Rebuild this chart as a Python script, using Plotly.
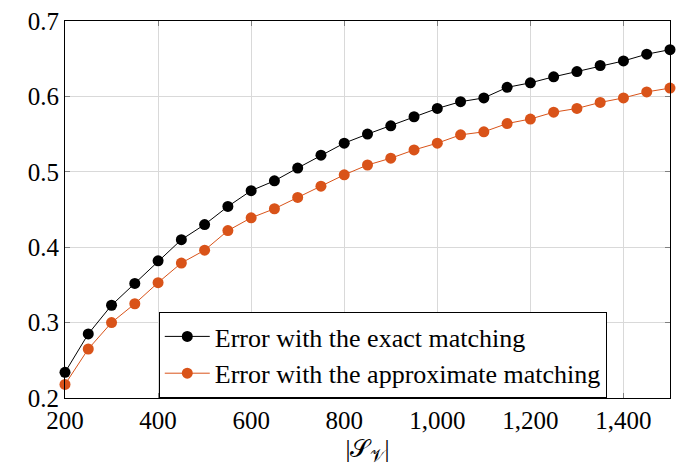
import plotly.graph_objects as go

x_vals = [200, 250, 300, 350, 400, 450, 500, 550, 600, 650, 700, 750, 800, 850,
          900, 950, 1000, 1050, 1100, 1150, 1200, 1250, 1300, 1350, 1400, 1450, 1500]
exact_err = [0.234, 0.285, 0.323, 0.352, 0.382, 0.410, 0.430, 0.454, 0.475, 0.488,
             0.505, 0.522, 0.538, 0.550, 0.561, 0.573, 0.584, 0.593, 0.598, 0.612,
             0.618, 0.626, 0.633, 0.641, 0.647, 0.656, 0.662]
approx_err = [0.218, 0.265, 0.300, 0.325, 0.353, 0.379, 0.396, 0.422, 0.439, 0.451,
              0.466, 0.481, 0.496, 0.509, 0.518, 0.529, 0.538, 0.549, 0.553, 0.564,
              0.570, 0.579, 0.584, 0.592, 0.598, 0.606, 0.611]
x_ticks = [200, 400, 600, 800, 1000, 1200, 1400]
y_ticks = [0.2, 0.3, 0.4, 0.5, 0.6, 0.7]

font_family = "Liberation Serif, serif"
tick_size = 25
legend_size = 26

fig = go.Figure()
fig.add_trace(go.Scatter(
    x=x_vals, y=exact_err, mode="lines+markers",
    name="Error with the exact matching",
    line=dict(color="black", width=1),
    marker=dict(color="black", size=11),
    cliponaxis=False,
))
fig.add_trace(go.Scatter(
    x=x_vals, y=approx_err, mode="lines+markers",
    name="Error with the approximate matching",
    line=dict(color="#D95319", width=1),
    marker=dict(color="#D95319", size=11),
    cliponaxis=False,
))

def axis_style():
    return dict(
        showgrid=True, gridcolor="#d9d9d9", gridwidth=1,
        showline=True, linecolor="black", linewidth=1, mirror="ticks",
        ticks="inside", ticklen=5, tickcolor="#808080",
        zeroline=False, automargin=False, ticklabeloverflow="allow",
        tickfont=dict(family=font_family, size=tick_size, color="black"),
    )

fig.update_layout(
    width=686, height=473,
    margin=dict(l=57, r=24, t=13, b=83),
    paper_bgcolor="white", plot_bgcolor="white",
    font=dict(family=font_family, size=tick_size, color="black"),
    showlegend=True,
)
fig.update_xaxes(range=[200, 1500], tickvals=x_ticks, tickformat=",d",
                 title=dict(text="|𝒮<sub>𝒱</sub>|", standoff=6,
                            font=dict(family=font_family, size=tick_size)),
                 **axis_style())
fig.update_yaxes(range=[0.2, 0.7], tickvals=y_ticks, tickformat=".1f", **axis_style())
fig.update_layout(
    legend=dict(x=0.155, y=0, xanchor="left", yanchor="bottom",
                bordercolor="black", borderwidth=1, bgcolor="white",
                font=dict(family=font_family, size=legend_size),
                tracegroupgap=0, itemwidth=45),
)

fig.write_html("out.html")
